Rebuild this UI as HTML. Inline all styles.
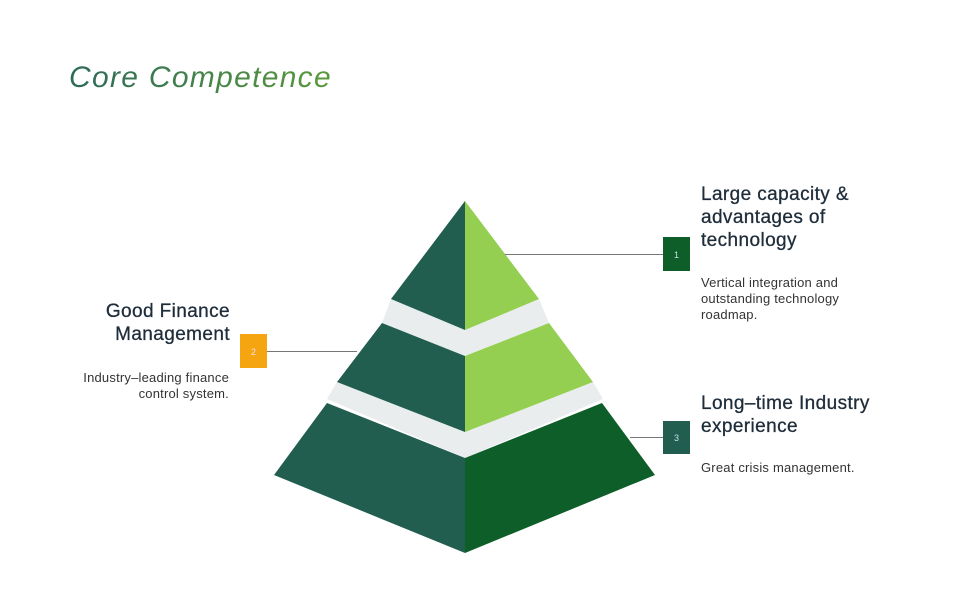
<!DOCTYPE html>
<html><head><style>
body{margin:0;width:972px;height:593px;background:#fff;position:relative;overflow:hidden;font-family:"Liberation Sans",sans-serif;color:#1f2d3a}
.t{position:absolute;font-size:30px;font-style:italic;left:69px;top:61px;letter-spacing:1.3px;background:linear-gradient(90deg,#2d6a5a,#5a9a3a);-webkit-background-clip:text;background-clip:text;color:transparent}
.h{position:absolute;font-size:19px;line-height:23px;letter-spacing:0.4px;-webkit-text-stroke:0.3px #1f2d3a}
.b{position:absolute;font-size:13px;line-height:16px;color:#333;letter-spacing:0.2px}
</style></head><body>
<div class="t">Core Competence</div>
<svg width="972" height="593" style="position:absolute;left:0;top:0">
<polygon points="391,299 465,330 539,299 549,323 465,356 382,323" fill="#e9edee"/>
<polygon points="337,382 465,432 593,382 603,399 465,458 327,399" fill="#e9edee"/>
<polygon points="465,201 391,299 465,330" fill="#215e4f"/>
<polygon points="465,201 539,299 465,330" fill="#95cf52"/>
<polygon points="382,323 465,356 465,432 337,382" fill="#215e4f"/>
<polygon points="549,323 465,356 465,432 593,382" fill="#95cf52"/>
<polygon points="327,403 465,458 465,553 274,475" fill="#215e4f"/>
<polygon points="602,403 465,458 465,553 655,475" fill="#0d5e28"/>
<line x1="505" y1="254.5" x2="663" y2="254.5" stroke="#777" stroke-width="1"/>
<line x1="267" y1="351.5" x2="357" y2="351.5" stroke="#777" stroke-width="1"/>
<line x1="630" y1="437.5" x2="663" y2="437.5" stroke="#777" stroke-width="1"/>
<rect x="663" y="237" width="27" height="34" fill="#0d5e28"/>
<rect x="240" y="334" width="27" height="34" fill="#f5a50f"/>
<rect x="663" y="421" width="27" height="33" fill="#215e4f"/>
<text x="676.5" y="258" font-size="9" fill="#cde" text-anchor="middle" font-family="Liberation Sans">1</text>
<text x="253.5" y="355" font-size="9" fill="#fde" text-anchor="middle" font-family="Liberation Sans">2</text>
<text x="676.5" y="441" font-size="9" fill="#cde" text-anchor="middle" font-family="Liberation Sans">3</text>
</svg>
<div class="h" style="left:701px;top:183px">Large capacity &amp;<br>advantages of<br>technology</div>
<div class="b" style="left:701px;top:275px">Vertical integration and<br>outstanding technology<br>roadmap.</div>
<div class="h" style="left:701px;top:392px">Long–time Industry<br>experience</div>
<div class="b" style="left:701px;top:460px">Great crisis management.</div>
<div class="h" style="right:742px;top:300px;text-align:right">Good Finance<br>Management</div>
<div class="b" style="right:743px;top:370px;text-align:right">Industry–leading finance<br>control system.</div>
</body></html>
